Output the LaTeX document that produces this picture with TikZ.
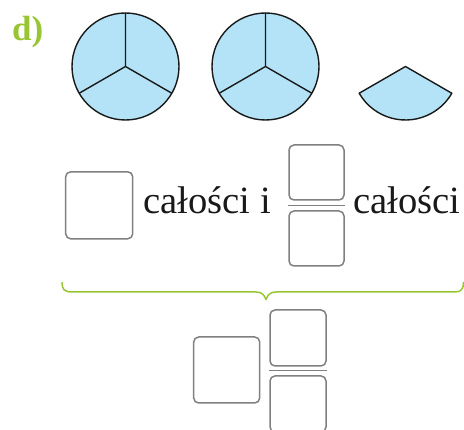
\documentclass[tikz,border=0pt]{standalone}
\usepackage{fontspec}
\setmainfont{Liberation Serif}
\definecolor{pie}{RGB}{180,227,247}
\definecolor{lime}{RGB}{152,197,52}
\definecolor{boxgray}{RGB}{128,128,128}
\tikzset{
  piece/.style={draw=black!90, fill=pie, line width=1.4pt, line join=round},
  answerbox/.style={draw=boxgray, line width=1.5pt, rounded corners=5pt, minimum width=#1, minimum height=#1, inner sep=0pt},
  fracline/.style={draw=boxgray, line width=1.5pt},
  word/.style={font=\fontsize{38.6}{40}\selectfont, inner sep=0pt, anchor=base west, text=black!90},
}
\begin{document}
\begin{tikzpicture}[x=1pt,y=-1pt]
\useasboundingbox (0,0) rectangle (464,430);
\clip (0,0) rectangle (464,430);
% label
\node[font=\fontsize{35}{35}\selectfont\bfseries, text=lime, inner sep=0pt, anchor=base west] (lab) at (12,41) {d)};
% circles
\foreach \cx/\nm in {125.5/c1, 265.5/c2} {
  \coordinate (\nm) at (\cx,66.5);
  \draw[piece] (\nm) circle[radius=53.5];
  \draw[piece, fill=none] (\nm) -- ++(0,-53.5) (\nm) -- ++(150:53.5) (\nm) -- ++(30:53.5);
}
% single sector (y axis flipped)
\coordinate (s) at (405.5,66.5);
\draw[piece] (s) -- ++(-46.33,26.75) arc[start angle=150, end angle=30, radius=53.5] -- cycle;
% row 2
\node[answerbox=67pt] (b1) at (99.2,205.3) {};
\node[word] (t1) at (143,214) {całości i};
\node[answerbox=55pt] (n1) at (316.5,172.5) {};
\node[answerbox=55pt] (d1) at (316.5,238.5) {};
\coordinate (f1a) at (288,205.5);
\coordinate (f1b) at (345,205.5);
\draw[fracline] (f1a) -- (f1b);
\node[word] (t2) at (353,214) {całości};
% brace
\coordinate (bl) at (62,282.5);
\coordinate (br) at (463.5,282.5);
\coordinate (bt) at (266,299.5);
\draw[lime, line width=1.5pt, line cap=round, line join=round]
  (bl) .. controls (62,289) and (64,292) .. (72,292) -- (256,292)
  .. controls (261,292) and (264,294) .. (bt)
  .. controls (268,294) and (271,292) .. (276,292) -- (455,292)
  .. controls (461,292) and (463.5,289) .. (br);
% result
\node[answerbox=66pt] (b2) at (226.7,370) {};
\node[answerbox=56pt] (n2) at (298,338) {};
\node[answerbox=56pt] (d2) at (298,404) {};
\coordinate (f2a) at (269,370.7);
\coordinate (f2b) at (326.5,370.7);
\draw[fracline] (f2a) -- (f2b);
\end{tikzpicture}
\end{document}
